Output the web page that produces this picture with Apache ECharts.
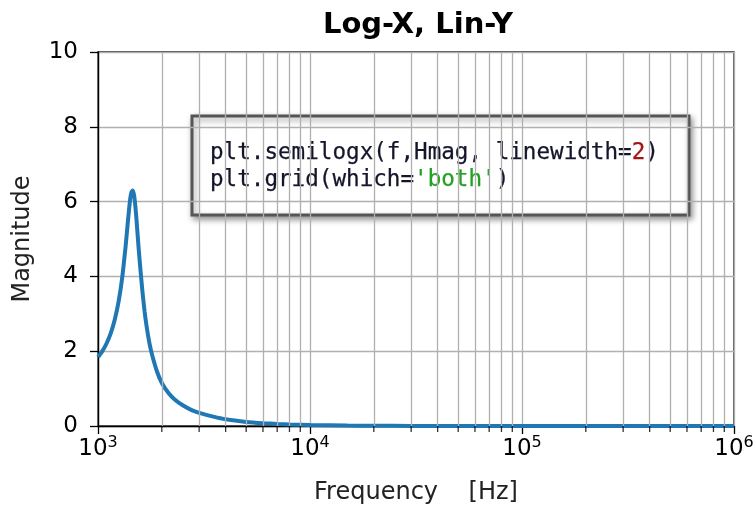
<!DOCTYPE html>
<html>
<head>
<meta charset="utf-8">
<script src="https://cdn.jsdelivr.net/npm/echarts@6/dist/echarts.min.js"></script>
<style>html,body{margin:0;padding:0;background:#fff;}#c{width:756px;height:513px;}</style>
</head>
<body>
<div id="c"></div>
<script>
// Frequency (Hz) and magnitude
const freq = [1000, 1050, 1100, 1150, 1200, 1250, 1300, 1350, 1380, 1400, 1420, 1440, 1460, 1480, 1500, 1520, 1550, 1580, 1620, 1660, 1700, 1750, 1800, 1900, 2000, 2150, 2300, 2500, 2750, 3000, 3500, 4000, 5000, 6000, 7000, 8000, 10000, 15000, 20000, 30000, 50000, 100000, 200000, 500000, 1000000];
const mag  = [1.84, 2.01, 2.22, 2.49, 2.85, 3.32, 3.96, 4.81, 5.40, 5.77, 6.09, 6.26, 6.30, 6.17, 5.88, 5.50, 4.85, 4.28, 3.60, 3.05, 2.62, 2.20, 1.90, 1.45, 1.15, 0.88, 0.71, 0.56, 0.43, 0.35, 0.25, 0.18, 0.11, 0.075, 0.055, 0.042, 0.027, 0.012, 0.007, 0.003, 0.001, 0.0003, 0.0001, 0, 0];
const minorFreqs = [2000,3000,4000,5000,6000,7000,8000,9000,20000,30000,40000,50000,60000,70000,80000,90000,200000,300000,400000,500000,600000,700000,800000,900000];
const yTicks = [0, 2, 4, 6, 8, 10];
const titleText = 'Log-X, Lin-Y';
const xName = 'Frequency    [Hz]';
const yName = 'Magnitude';
const codeLine1 = 'plt.semilogx(f,Hmag, linewidth=';
const codeNum = '2';
const codeLine2 = "plt.grid(which=";
const codeStr = "'both'";

const chart = echarts.init(document.getElementById('c'), null, {renderer: 'canvas'});
const gridColor = '#b0b0b0';
const font = 'DejaVu Sans';
const mono = 'DejaVu Sans Mono';
const codeFs = 22.6;

const option = {
  backgroundColor: '#fff',
  animation: false,
  title: {
    text: titleText,
    left: 413, top: 6, textAlign: 'center',
    textStyle: {fontFamily: font, fontWeight: 'bold', fontSize: 29, color: '#000'}
  },
  grid: {left: 98, right: 22, top: 52, bottom: 87, containLabel: false, outerBoundsMode: 'none',
         show: true, borderColor: '#111', borderWidth: 1.3, backgroundColor: 'transparent'},
  xAxis: {
    type: 'log', logBase: 10, min: 1000, max: 1000000,
    name: xName, nameLocation: 'middle', nameGap: 55,
    nameTextStyle: {fontFamily: font, fontSize: 24, color: '#222'},
    axisLine: {show: true, onZero: false, lineStyle: {color: '#000', width: 1.3}},
    axisTick: {show: true, length: 8, lineStyle: {color: '#000', width: 1.3}},
    splitLine: {show: true, lineStyle: {color: gridColor, width: 1.3}},
    minorTick: {show: false}, minorSplitLine: {show: false},
    axisLabel: {
      margin: 9,
      formatter: v => '{b|10}{s|' + Math.round(Math.log10(v)) + '}',
      rich: {
        b: {fontFamily: font, fontSize: 23, color: '#000', lineHeight: 27},
        s: {fontFamily: font, fontSize: 16, color: '#000', padding: [0, 0, 13, 0]}
      }
    }
  },
  yAxis: {
    type: 'value', min: 0, max: 10, interval: 2,
    name: yName, nameLocation: 'middle', nameGap: 63, nameRotate: 90,
    nameTextStyle: {fontFamily: font, fontSize: 24, color: '#222'},
    axisLine: {show: true, lineStyle: {color: '#000', width: 1.3}},
    axisTick: {show: true, length: 8, lineStyle: {color: '#000', width: 1.3}},
    splitLine: {show: true, lineStyle: {color: gridColor, width: 1.3}},
    axisLabel: {margin: 20, fontFamily: font, fontSize: 23, color: '#000',
      formatter: v => yTicks.includes(v) ? String(v) : ''}
  },
  series: [
    {
      type: 'line', silent: true, showSymbol: false, z: 1,
      data: [],
      markLine: {
        silent: true, symbol: ['none', 'none'], label: {show: false},
        lineStyle: {color: gridColor, width: 1.3, type: 'solid'},
        data: minorFreqs.map(f => ({xAxis: f}))
      }
    },
    {
      type: 'scatter', silent: true, clip: false, z: 5,
      symbol: 'rect', symbolSize: [1.3, 6], symbolOffset: [0, 3],
      itemStyle: {color: '#000'},
      data: minorFreqs.map(f => [f, 0])
    },
    {
      type: 'line', silent: true, showSymbol: false, z: 3,
      smooth: 0.2,
      lineStyle: {color: '#1f77b4', width: 4},
      data: freq.map((f, i) => [f, mag[i]])
    }
  ],
  graphic: [
    {
      type: 'group', z: 100,
      children: [
        {type: 'rect', shape: {x: 192, y: 116, width: 497, height: 99},
         style: {fill: '#fff', stroke: '#555', lineWidth: 3,
                 shadowBlur: 6, shadowColor: 'rgba(0,0,0,0.4)', shadowOffsetX: 2, shadowOffsetY: 3}},
        {type: 'text', x: 210, y: 153,
         style: {text: '{a|' + codeLine1 + '}{r|' + codeNum + '}{a|)}',
                 verticalAlign: 'middle', align: 'left',
                 rich: {a: {fontFamily: mono, fontSize: codeFs, fill: '#14142a', stroke: '#14142a', lineWidth: 0.25},
                        r: {fontFamily: mono, fontSize: codeFs, fill: '#a31515', stroke: '#a31515', lineWidth: 0.25}}}},
        {type: 'text', x: 210, y: 180,
         style: {text: '{a|' + codeLine2 + '}{g|' + codeStr + '}{a|)}',
                 verticalAlign: 'middle', align: 'left',
                 rich: {a: {fontFamily: mono, fontSize: codeFs, fill: '#14142a', stroke: '#14142a', lineWidth: 0.25},
                        g: {fontFamily: mono, fontSize: codeFs, fill: '#22a022', stroke: '#22a022', lineWidth: 0.25}}}}
      ]
    }
  ]
};
chart.setOption(option);
</script>
</body>
</html>
